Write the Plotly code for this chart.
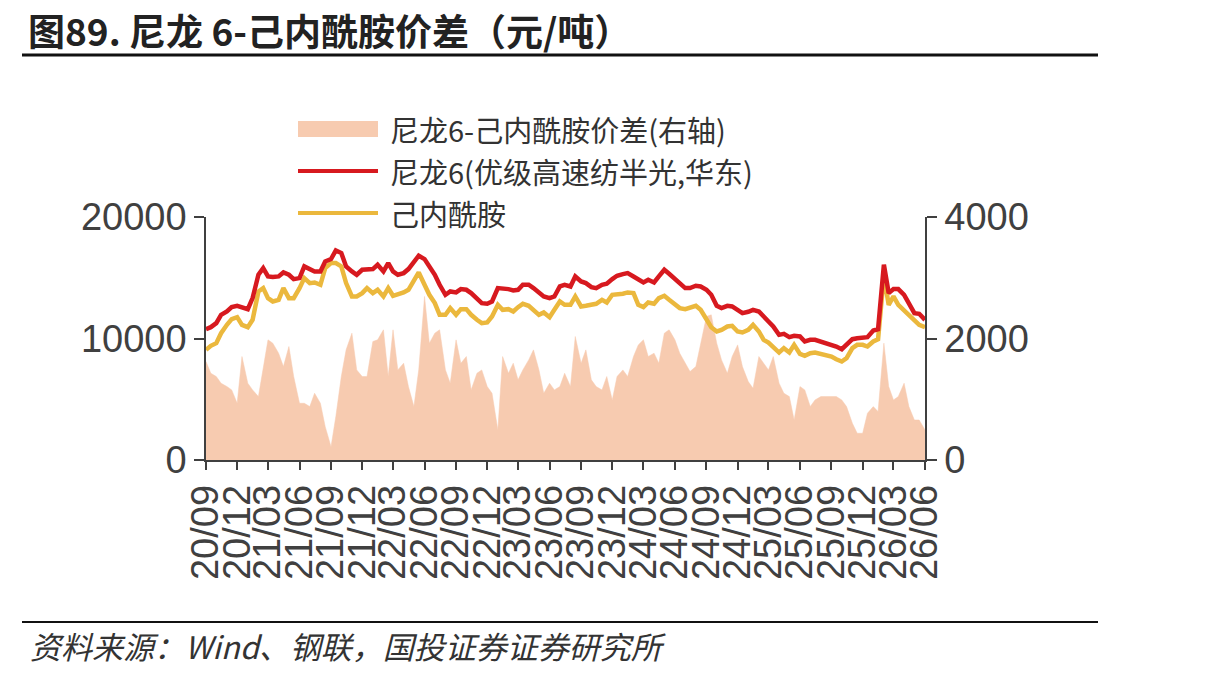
import pandas as pd
import plotly.graph_objects as go

# ---------------- data (semi-monthly) ----------------
dates = pd.date_range("2020-09-01", periods=139, freq="SMS")

nylon6 = [10768, 10933, 11263, 11950, 12224, 12581, 12691, 12581, 12416, 13323,
          15246, 15795, 15108, 15054, 15108, 15438, 15246, 14889, 14971, 15933,
          15713, 15520, 15520, 16345, 16537, 17251, 17031, 15933, 15520, 15246,
          15658, 15713, 15713, 16070, 15520, 16207, 15520, 15246, 15383, 15713,
          16262, 16811, 16537, 15933, 15246, 14422, 13597, 13872, 13790, 14065,
          14010, 13735, 13323, 12911, 12856, 13048, 14147, 14147, 14065, 13955,
          14010, 14422, 14422, 14147, 13735, 13460, 13323, 13460, 14284, 14422,
          14284, 15108, 14696, 14559, 14229, 14147, 14422, 14504, 14889, 15163,
          15301, 15383, 15108, 14889, 14614, 14834, 14614, 15108, 15658, 15328,
          14889, 14504, 14147, 14147, 14339, 14284, 14010, 13597, 12691, 12499,
          12691, 12636, 12306, 12087, 12197, 12361, 12224, 11757, 11400, 10988,
          10301, 10384, 10109, 10219, 10164, 9752, 9889, 9889, 9752, 9560,
          9477, 9340, 9120, 9477, 9944, 10026, 10026, 10109, 10658, 10768,
          16070, 13735, 14065, 14065, 13597, 12856, 12087, 12032, 11537]

caprolactam = [9065, 9395, 9615, 10439, 11125, 11592, 11757, 11125, 10933, 11537,
               13872, 14147, 13323, 13048, 13186, 14147, 13323, 13323, 14147, 14971,
               14559, 14614, 14422, 15795, 16207, 16207, 15933, 14559, 13460, 13460,
               13735, 14147, 13735, 14010, 13460, 14147, 13515, 13597, 13790, 14010,
               14696, 15438, 14422, 13597, 12911, 11949, 11949, 12499, 11949, 12416,
               12416, 11949, 11537, 11263, 11318, 11812, 12774, 12361, 12416, 12224,
               12581, 12856, 12691, 12361, 11949, 12142, 11757, 12361, 13048, 12774,
               12774, 13460, 12636, 12691, 12774, 12856, 13186, 12966, 13597, 13597,
               13680, 13790, 13735, 12774, 12581, 12966, 12856, 13323, 13515, 13186,
               12856, 12499, 12416, 12581, 12691, 12361, 11537, 10933, 10576, 10713,
               10988, 11043, 10576, 10494, 10713, 11125, 10576, 9889, 9669, 9340,
               8845, 9203, 8845, 9477, 8735, 8570, 8790, 8845, 8735, 8653,
               8515, 8296, 8104, 8378, 9203, 9477, 9477, 9340, 9752, 9944,
               15200, 12774, 13460, 12774, 12306, 11867, 11482, 11125, 10933]

spread = [1621, 1428, 1374, 1264, 1209, 1154, 934, 1703, 1264, 1154,
          1044, 1483, 1978, 1923, 1758, 1538, 1868, 1374, 934, 934,
          879, 1099, 934, 549, 220, 714, 1374, 1813, 2088, 1483,
          1374, 1374, 1950, 1978, 2143, 1374, 2143, 1483, 1593, 1209,
          879, 1483, 2692, 1923, 2088, 2143, 1483, 1264, 1978, 1593,
          1703, 1154, 1428, 1483, 1209, 1099, 494, 1703, 1428, 1593,
          1319, 1483, 1648, 1813, 1483, 1099, 1264, 1154, 1209, 1428,
          1209, 2033, 1593, 1813, 1319, 1209, 1154, 1374, 989, 1374,
          1483, 1374, 1703, 1895, 1978, 1703, 1758, 1593, 2088, 2143,
          1978, 1758, 1593, 1456, 1538, 1923, 2363, 2390, 1923, 1648,
          1428, 1703, 1895, 1538, 1291, 1181, 1703, 1593, 1483, 1703,
          1264, 1099, 1044, 659, 1209, 1154, 879, 989, 1044, 1044,
          1044, 1044, 989, 879, 604, 440, 440, 769, 879, 797,
          1923, 1209, 989, 1044, 1264, 879, 659, 659, 494]

names = ["尼龙6-己内酰胺价差(右轴)", "尼龙6(优级高速纺半光,华东)", "己内酰胺"]
title_text = "图89. 尼龙 6-己内酰胺价差（元/吨）"
source_text = "资料来源：Wind、钢联，国投证券证券研究所"

# ---------------- styles ----------------
C_AREA = "#F7CBB0"
C_RED = "#D7191F"
C_YEL = "#EBB83D"
C_AX = "#404040"
TXT = "#333333"
CJK = "Noto Sans CJK SC"
NUM = "Liberation Sans"

W, H = 1213, 678
L, R, T, B = 206, 925, 217, 460


def px(x):
    return (x - L) / (R - L)


def py(y):
    return (B - y) / (B - T)


fig = go.Figure()
fig.add_trace(go.Scatter(x=dates, y=spread, mode="lines", fill="tozeroy",
                         fillcolor=C_AREA, line=dict(color=C_AREA, width=0.5),
                         yaxis="y", showlegend=False))
fig.add_trace(go.Scatter(x=dates, y=caprolactam, mode="lines",
                         line=dict(color=C_YEL, width=4.5), yaxis="y2", showlegend=False))
fig.add_trace(go.Scatter(x=dates, y=nylon6, mode="lines",
                         line=dict(color=C_RED, width=4.5), yaxis="y2", showlegend=False))

tickfont = dict(family=NUM, size=38, color=C_AX)

fig.update_layout(
    width=W, height=H,
    margin=dict(l=L, r=W - R, t=T, b=H - B, pad=0),
    paper_bgcolor="white", plot_bgcolor="white",
    xaxis=dict(type="date", range=[dates[0], dates[-1]],
               tick0="2020-09-01", dtick="M3", tickformat="%y/%m",
               tickangle=-90, tickfont=tickfont,
               showline=True, linecolor=C_AX, linewidth=1.5,
               ticks="outside", ticklen=8, tickcolor=C_AX, tickwidth=1.5,
               showgrid=False, zeroline=False),
    yaxis=dict(range=[0, 4000], dtick=2000, side="right", tickformat="d",
               tickfont=tickfont, showline=True, linecolor=C_AX, linewidth=1.5,
               ticks="outside", ticklen=10, tickcolor=C_AX, tickwidth=1.5,
               showgrid=False, zeroline=False),
    yaxis2=dict(range=[0, 20000], dtick=10000, side="left", overlaying="y",
                anchor="x", tickformat="d", tickfont=tickfont, showline=True,
                linecolor=C_AX, linewidth=1.5, ticks="outside", ticklen=10,
                tickcolor=C_AX, tickwidth=1.5, showgrid=False, zeroline=False),
    showlegend=False,
)

shapes = []
annotations = []

# title + rules
annotations.append(dict(x=px(26), y=py(30), xref="paper", yref="paper",
                        xanchor="left", yanchor="middle", showarrow=False,
                        text="<b>" + title_text + "</b>",
                        font=dict(family=CJK, size=37, color="#222222")))
shapes.append(dict(type="line", xref="paper", yref="paper",
                   x0=px(22), x1=px(1098), y0=py(55), y1=py(55),
                   line=dict(color="#111111", width=3)))
shapes.append(dict(type="line", xref="paper", yref="paper",
                   x0=px(22), x1=px(1098), y0=py(622), y1=py(622),
                   line=dict(color="#111111", width=2)))
annotations.append(dict(x=px(28), y=py(645), xref="paper", yref="paper",
                        xanchor="left", yanchor="middle", showarrow=False,
                        text="<i>" + source_text + "</i>",
                        font=dict(family=CJK, size=31, color=TXT)))

# manual legend
rows = [129, 171, 213]
shapes.append(dict(type="rect", xref="paper", yref="paper",
                   x0=px(298), x1=px(378), y0=py(rows[0] + 8), y1=py(rows[0] - 8),
                   fillcolor=C_AREA, line=dict(width=0)))
shapes.append(dict(type="line", xref="paper", yref="paper",
                   x0=px(298), x1=px(378), y0=py(rows[1]), y1=py(rows[1]),
                   line=dict(color=C_RED, width=4)))
shapes.append(dict(type="line", xref="paper", yref="paper",
                   x0=px(298), x1=px(378), y0=py(rows[2]), y1=py(rows[2]),
                   line=dict(color=C_YEL, width=4)))
for r, n in zip(rows, names):
    annotations.append(dict(x=px(388), y=py(r), xref="paper", yref="paper",
                            xanchor="left", yanchor="middle", showarrow=False,
                            text=n, font=dict(family=CJK, size=29, color=TXT)))

fig.update_layout(shapes=shapes, annotations=annotations)
fig.write_html("out.html")
